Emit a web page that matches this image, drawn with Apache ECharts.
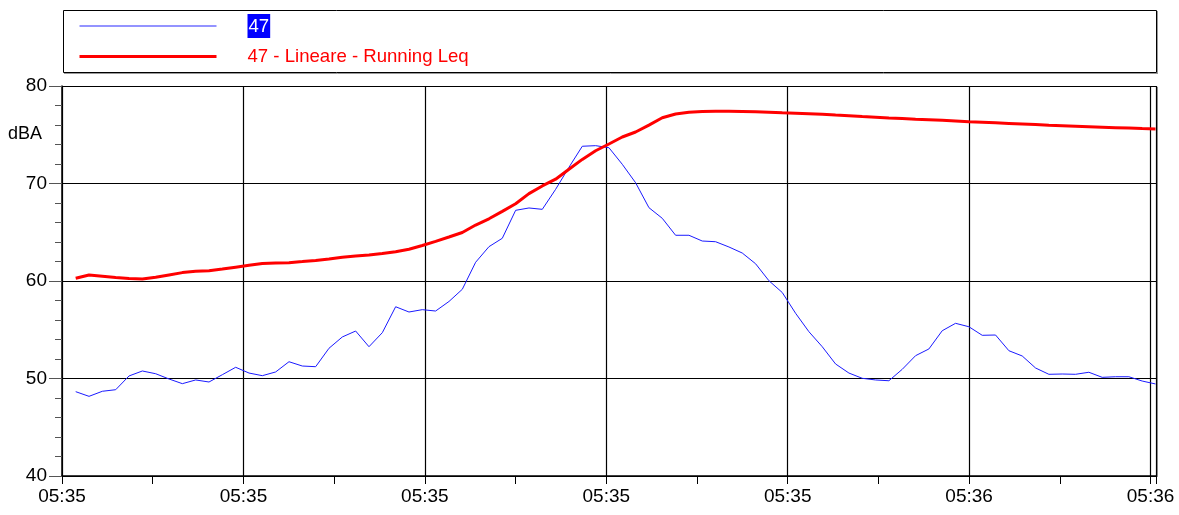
<!DOCTYPE html>
<html>
<head>
<meta charset="utf-8">
<script src="https://cdn.jsdelivr.net/npm/echarts@6/dist/echarts.min.js"></script>
<style>
html,body{margin:0;padding:0;background:#fff;}
#chart{width:1179px;height:515px;}
</style>
</head>
<body>
<div id="chart"></div>
<script>
// ---- data (seconds after 05:35:00) ----
const sampleStart = 10.755;   // first sample time (s after 05:35:00)
const samplePeriod = 0.7348;  // sampling period (s)
const seriesNames = ['47', '47 - Lineare - Running Leq'];
const yTicks = [40, 50, 60, 70, 80];
const xTickSeconds = [10, 20, 30, 40, 50, 60, 70];
const yUnit = 'dBA';

const level47 = [
  48.65, 48.17, 48.69, 48.85, 50.26, 50.77, 50.49, 49.95, 49.47, 49.85,
  49.64, 50.39, 51.15, 50.56, 50.29, 50.67, 51.72, 51.28, 51.21, 53.10,
  54.26, 54.87, 53.26, 54.70, 57.36, 56.82, 57.06, 56.92, 57.90, 59.15,
  61.92, 63.52, 64.38, 67.25, 67.49, 67.35, 69.40, 71.66, 73.82, 73.88,
  73.67, 71.97, 70.08, 67.52, 66.43, 64.69, 64.69, 64.10, 64.03, 63.49,
  62.87, 61.77, 60.03, 58.82, 56.69, 54.80, 53.26, 51.49, 50.56, 50.02,
  49.85, 49.77, 50.94, 52.34, 53.03, 54.90, 55.66, 55.31, 54.43, 54.46,
  52.85, 52.31, 51.08, 50.43, 50.46, 50.43, 50.64, 50.12, 50.18, 50.18,
  49.74, 49.44
];
const runningLeq = [
  60.28, 60.62, 60.49, 60.36, 60.26, 60.21, 60.38, 60.62, 60.86, 60.99,
  61.06, 61.22, 61.42, 61.61, 61.80, 61.85, 61.88, 61.99, 62.11, 62.26,
  62.43, 62.56, 62.66, 62.81, 63.01, 63.26, 63.64, 64.06, 64.51, 64.97,
  65.74, 66.38, 67.14, 67.92, 68.96, 69.75, 70.44, 71.46, 72.47, 73.36,
  74.05, 74.77, 75.28, 75.99, 76.74, 77.13, 77.30, 77.38, 77.40, 77.41,
  77.39, 77.36, 77.31, 77.25, 77.20, 77.15, 77.10, 77.02, 76.95, 76.87,
  76.80, 76.73, 76.67, 76.60, 76.54, 76.48, 76.41, 76.34, 76.28, 76.22,
  76.16, 76.10, 76.04, 75.98, 75.93, 75.88, 75.83, 75.78, 75.73, 75.68,
  75.63, 75.59
];

const times = level47.map((_, i) => sampleStart + i * samplePeriod);
const pair = (vals) => vals.map((v, i) => [times[i], v]);

const FONT = '"Liberation Sans", Arial, sans-serif';
const chart = echarts.init(document.getElementById('chart'), null, {renderer: 'canvas'});

function fmtTime(v) {
  const r = Math.round(v / 10) * 10;
  if (Math.abs(v - r) > 1e-6 || xTickSeconds.indexOf(r) < 0) return '';
  const total = 5 * 3600 + 35 * 60 + r;
  const h = Math.floor(total / 3600), m = Math.floor((total % 3600) / 60);
  return String(h).padStart(2, '0') + ':' + String(m).padStart(2, '0');
}

chart.setOption({
  animation: false,
  backgroundColor: '#ffffff',
  grid: {left: 62, top: 86, right: 23, bottom: 39, show: false},
  legend: {
    orient: 'vertical',
    left: 78, top: 14,
    itemWidth: 137, itemHeight: 20, itemGap: 9,
    padding: 0,
    selectedMode: false,
    itemStyle: {color: 'rgba(0,0,0,0)', borderWidth: 0, opacity: 0},
    data: [
      {name: seriesNames[0], lineStyle: {color: '#6f6fff', width: 1.5}},
      {name: seriesNames[1], lineStyle: {color: '#ff0000', width: 3}}
    ],
    formatter: (name) => name === seriesNames[0] ? '{g|}{h|' + name + '}' : '{g|}{r|' + name + '}',
    textStyle: {
      fontFamily: FONT, fontSize: 18.6,
      rich: {
        g: {width: 26},
        h: {backgroundColor: '#0000ff', color: '#ffffff', fontFamily: FONT, fontSize: 18.6, padding: [3, 1, 2, 1]},
        r: {color: '#ff0000', fontFamily: FONT, fontSize: 18.6}
      }
    }
  },
  graphic: [
    {type: 'rect', shape: {x: 63.5, y: 10.5, width: 1093, height: 62}, style: {fill: 'none', stroke: '#000', lineWidth: 1}, z: -1},
    {type: 'line', shape: {x1: 1157.5, y1: 11, x2: 1157.5, y2: 74}, style: {stroke: '#999', lineWidth: 1}},
    {type: 'line', shape: {x1: 64, y1: 73.5, x2: 1157, y2: 73.5}, style: {stroke: '#999', lineWidth: 1}},
    {type: 'line', shape: {x1: 1157.5, y1: 87, x2: 1157.5, y2: 477}, style: {stroke: '#999', lineWidth: 1}},
    {type: 'text', left: 8, top: 125, style: {text: yUnit, fontFamily: FONT, fontSize: 18, fill: '#000'}}
  ],
  xAxis: {
    type: 'value',
    min: 10, max: 70.3, interval: 10,
    axisLine: {show: true, onZero: false, lineStyle: {color: '#000', width: 1.5}},
    axisTick: {show: true, length: 8, lineStyle: {color: '#000'}},
    minorTick: {show: true, splitNumber: 2, length: 8, lineStyle: {color: '#000'}},
    splitLine: {show: true, lineStyle: {color: '#000', width: 1.2}},
    axisLabel: {
      show: true, margin: 11, color: '#000', fontFamily: FONT, fontSize: 19,
      formatter: fmtTime, showMinLabel: true, showMaxLabel: true, hideOverlap: false
    }
  },
  yAxis: {
    type: 'value',
    min: yTicks[0], max: yTicks[yTicks.length - 1], interval: 10,
    axisLine: {show: true, lineStyle: {color: '#000', width: 1.5}},
    axisTick: {show: true, length: 13, lineStyle: {color: '#555'}},
    minorTick: {show: true, splitNumber: 5, length: 7, lineStyle: {color: '#555'}},
    splitLine: {show: true, lineStyle: {color: '#000', width: 1.2}},
    axisLabel: {margin: 15, color: '#000', fontFamily: FONT, fontSize: 19}
  },
  series: [
    {
      name: seriesNames[0], type: 'line', data: pair(level47),
      symbol: 'none', smooth: false,
      lineStyle: {color: '#1a1aff', width: 1},
      itemStyle: {color: '#6666ff'},
      z: 3
    },
    {
      name: seriesNames[1], type: 'line', data: pair(runningLeq),
      symbol: 'none', smooth: false,
      lineStyle: {color: '#ff0000', width: 3},
      itemStyle: {color: '#ff0000'},
      z: 4
    }
  ]
});
</script>
</body>
</html>
